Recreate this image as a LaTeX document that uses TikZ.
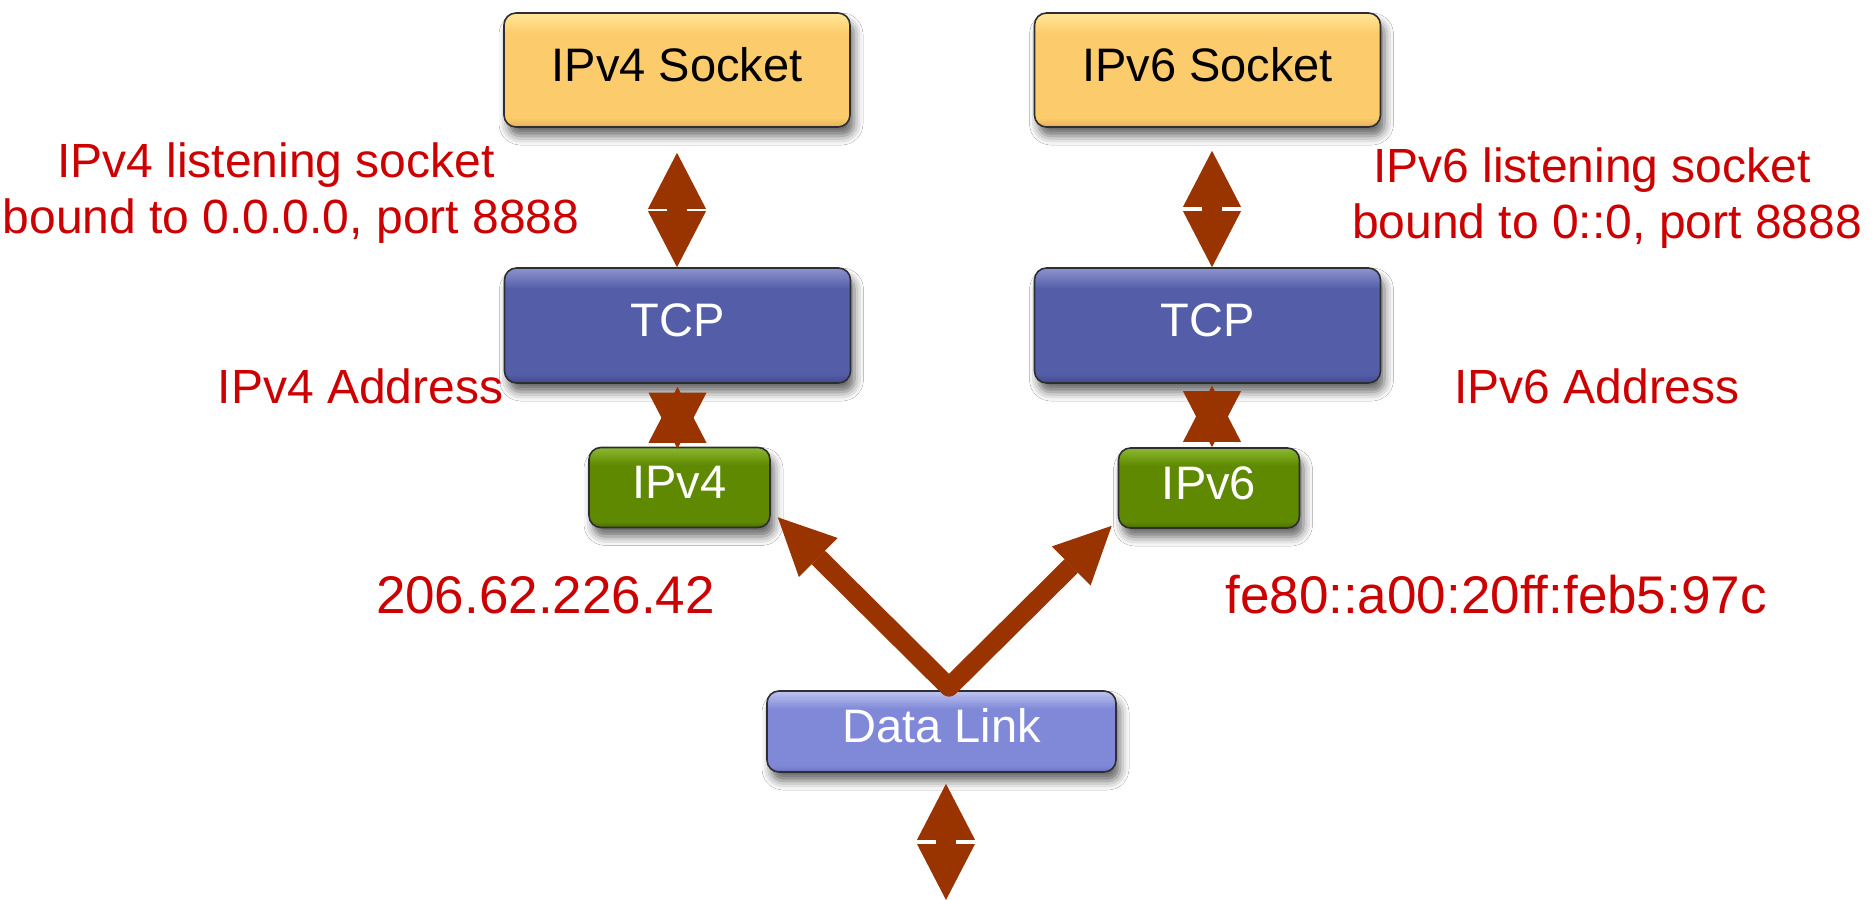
\documentclass[tikz,border=0pt]{standalone}
\usepackage{fontspec}
\setmainfont{Liberation Sans}
\usetikzlibrary{arrows.meta,calc,shadows.blur}

% palette
\definecolor{sockbase}{RGB}{252,203,108}
\definecolor{socklight}{RGB}{255,232,150}
\definecolor{sockdark}{RGB}{226,176,88}
\definecolor{tcpbase}{RGB}{84,94,168}
\definecolor{tcplight}{RGB}{140,148,205}
\definecolor{tcpdark}{RGB}{66,74,140}
\definecolor{ipbase}{RGB}{94,137,0}
\definecolor{iplight}{RGB}{140,185,50}
\definecolor{ipdark}{RGB}{74,110,0}
\definecolor{linkbase}{RGB}{128,137,216}
\definecolor{linklight}{RGB}{190,196,240}
\definecolor{linkdark}{RGB}{104,112,190}
\definecolor{arrowbrown}{RGB}{153,51,0}
\definecolor{labelred}{RGB}{204,0,0}
\definecolor{boxedge}{RGB}{45,45,50}

% glossy box fills: light rim at the top, dark rim at the bottom
\pgfdeclareverticalshading{sockshade}{100bp}{color(0bp)=(sockdark); color(25bp)=(sockdark); color(29bp)=(sockbase); color(66bp)=(sockbase); color(75bp)=(socklight); color(100bp)=(socklight)}
\pgfdeclareverticalshading{tcpshade}{100bp}{color(0bp)=(tcpdark); color(25bp)=(tcpdark); color(29bp)=(tcpbase); color(66bp)=(tcpbase); color(75bp)=(tcplight); color(100bp)=(tcplight)}
\pgfdeclareverticalshading{ipshade}{100bp}{color(0bp)=(ipdark); color(25bp)=(ipdark); color(29bp)=(ipbase); color(64bp)=(ipbase); color(75bp)=(iplight); color(100bp)=(iplight)}
\pgfdeclareverticalshading{linkshade}{100bp}{color(0bp)=(linkdark); color(25bp)=(linkdark); color(29bp)=(linkbase); color(64bp)=(linkbase); color(75bp)=(linklight); color(100bp)=(linklight)}

\begin{document}
\begin{tikzpicture}[
  x=1pt, y=-1pt,
  layerbox/.style={rounded corners=12pt, draw=boxedge, line width=1.6pt, shade,
    inner sep=0pt, text height=34pt, text depth=12pt,
    font=\fontsize{47pt}{56pt}\selectfont,
    blur shadow={shadow xshift=4pt, shadow yshift=-9pt, shadow blur radius=9pt, shadow opacity=60}},
  sockbox/.style={layerbox, shading=sockshade, minimum width=346pt, minimum height=114pt, text=black},
  tcpbox/.style={layerbox, shading=tcpshade, minimum width=346pt, minimum height=115pt, text=white},
  ipbox/.style={layerbox, shading=ipshade, minimum width=181pt, minimum height=80pt, text=white},
  linkbox/.style={layerbox, shading=linkshade, minimum width=349pt, minimum height=81pt, text=white},
  lbl/.style={text=labelred, inner sep=0pt, align=center, font=\fontsize{48pt}{56pt}\selectfont},
  numlbl/.style={lbl, font=\fontsize{53pt}{60pt}\selectfont},
  link/.style={draw=arrowbrown, line width=20pt,
    >={Triangle[length=56pt, width=58pt, line width=0pt]}, <->},
  vlink/.style={draw=arrowbrown, line width=19pt, line join=round,
    >={Triangle[length=57pt, width=55pt, line width=0pt]}, <->}
]
\fill[white] (0,0) rectangle (1875,900);
\useasboundingbox (0,0) rectangle (1875,900);

% protocol stack
\node[sockbox] (s4) at (677,70) {IPv4 Socket};
\node[sockbox] (s6) at (1207.5,70) {IPv6 Socket};
\node[tcpbox] (t4) at (677.5,325.5) {TCP};
\node[tcpbox] (t6) at (1207.5,325.5) {TCP};
\node[ipbox] (i4) at (679.5,487.5) {IPv4};
\node[ipbox] (i6) at (1209,488) {IPv6};
\node[linkbox] (dl) at (941.5,731.5) {Data Link};
\coordinate (wire) at (946,900);

% labels (base = baseline of the last line)
\node[lbl, anchor=base] (l4) at (291,233) {IPv4 listening socket\hspace*{30pt}\\bound to 0.0.0.0, port 8888};
\node[lbl, anchor=base] (l6) at (1607,238) {IPv6 listening socket\hspace*{30pt}\\bound to 0::0, port 8888};
\node[lbl, anchor=base] (a4) at (360.5,403) {IPv4 Address};
\node[lbl, anchor=base] (a6) at (1597,403) {IPv6 Address};
\node[numlbl, anchor=base] (n4) at (545.5,613) {206.62.226.42};
\node[numlbl, anchor=base] (n6) at (1496,613) {fe80::a00:20ff:feb5:97c};

% connectors
\draw[link] ($(s4.south)+(0,25)$) -- (s4.south |- t4.north);
\draw[link] ($(t4.south)+(0,3)$) -- ($(t4.south |- i4.north)+(0,2)$);
\draw[link] ($(s6.south)+(4.5,23)$) -- ($(s6.south |- t6.north)+(4.5,0)$);
\draw[link] ($(t6.south)+(4.5,2)$) -- ($(t6.south |- i6.north)+(4.5,0)$);
\draw[vlink] ($(i4.south east)+(7,-11)$) -- ($(dl.north)+(7.5,-3)$) -- ($(i6.south west)+(-6,-3)$);
\draw[link] ($(dl.south)+(4.5,11)$) -- (wire);
\end{tikzpicture}
\end{document}
